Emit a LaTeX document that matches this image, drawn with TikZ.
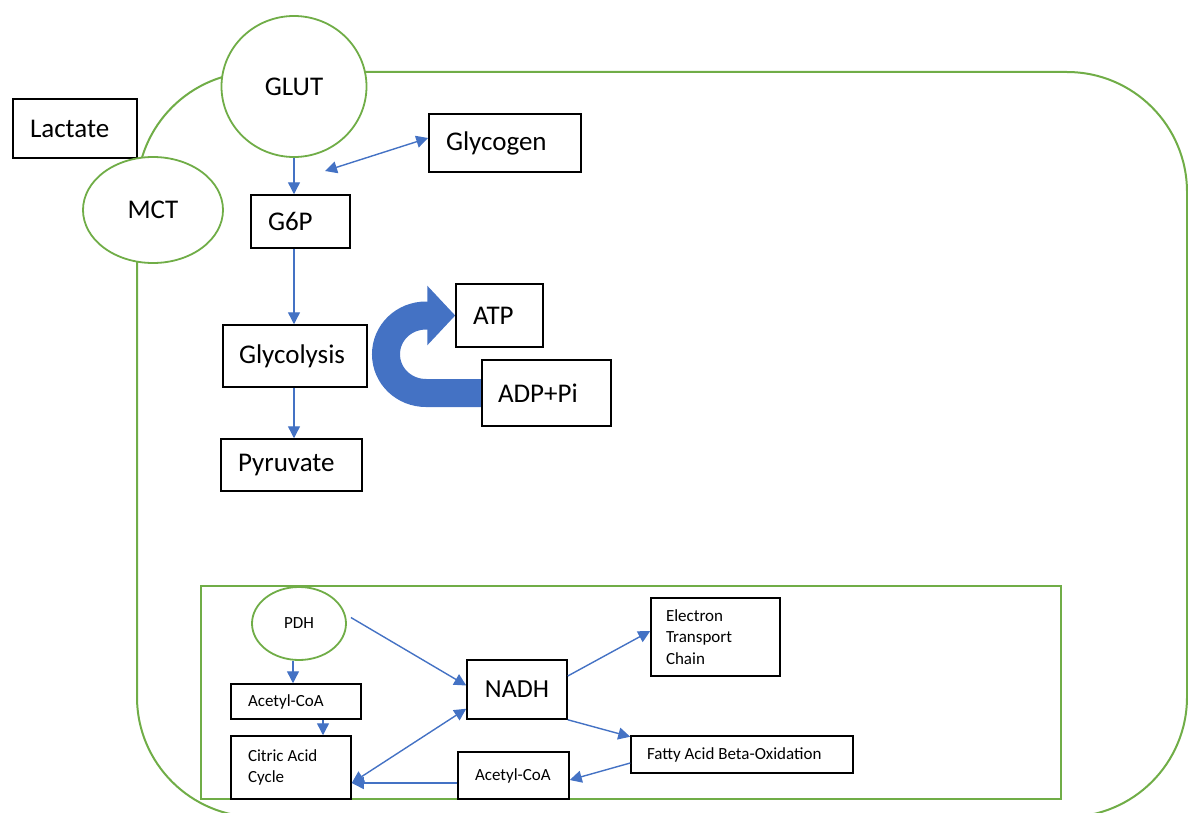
\documentclass[tikz,border=0pt]{standalone}
\usepackage{fontspec}
\setmainfont{Carlito}
\usetikzlibrary{arrows.meta,shapes.geometric,calc,backgrounds}
\definecolor{cgreen}{HTML}{70AD47}
\definecolor{cblue}{HTML}{4472C4}
\begin{document}
\begin{tikzpicture}[x=0.5pt,y=-0.5pt,
  bigf/.style={font=\fontsize{13.5}{16}\selectfont},
  smallf/.style={font=\fontsize{8.5}{10.75}\selectfont},
  bbox/.style={draw=black, line width=0.75pt, fill=white, inner ysep=0pt, align=flush left},
  ell/.style={ellipse, draw=cgreen, line width=0.9pt, fill=white, inner sep=0pt},
  arr/.style={draw=cblue, line width=0.7pt, -{Triangle[length=6pt,width=6pt]}},
  darr/.style={draw=cblue, line width=0.7pt, {Triangle[length=6pt,width=6pt]}-{Triangle[length=6pt,width=6pt]}},
  memb/.style={draw=cgreen, line width=1pt}]
\useasboundingbox (0,0) rectangle (1188,813);
\clip (0,0) rectangle (1188,813);
% cell membrane
\draw[memb, rounded corners=60pt] (137,72) rectangle (1187,817);
% mitochondrion
\node[memb, minimum width=430pt, minimum height=106.5pt, inner sep=0pt] (mito) at (631,692.5) {};
% top part
\node[bbox, bigf, minimum height=29.5pt, text width=45pt, inner xsep=8.5pt] (lactate) at (75,128.5) {Lactate};
\node[ell, bigf, minimum width=72.5pt, minimum height=70.5pt] (glut) at (294,86.5) {GLUT};
\node[ell, bigf, minimum width=70pt, minimum height=53pt] (mct) at (153,210) {MCT};
\node[bbox, bigf, minimum height=29pt, text width=59pt, inner xsep=8.5pt] (glycogen) at (505,143) {Glycogen};
\node[bbox, bigf, minimum height=26.5pt, text width=32.5pt, inner xsep=8.5pt] (g6p) at (300.5,221.5) {G6P};
\node[bbox, bigf, minimum height=31pt, text width=56pt, inner xsep=8pt] (glycolysis) at (295,356) {Glycolysis};
\node[bbox, bigf, minimum height=26pt, text width=53.5pt, inner xsep=8.5pt] (pyruvate) at (291.5,465) {Pyruvate};
\node[bbox, bigf, minimum height=31.5pt, text width=26.5pt, inner xsep=8.5pt] (atp) at (499.5,315.5) {ATP};
\node[bbox, bigf, minimum height=33pt, text width=48.5pt, inner xsep=8pt] (adp) at (546.5,393) {ADP+Pi};
% mitochondrion contents
\node[ell, smallf, minimum width=47pt, minimum height=36.5pt] (pdh) at (299,623.5) {PDH};
\node[bbox, smallf, minimum height=17.5pt, text width=48pt, inner xsep=8.5pt] (acetyla) at (296,701.5) {Acetyl-CoA};
\node[bbox, smallf, minimum height=31.5pt, text width=43pt, inner xsep=8.5pt] (citric) at (291,767.5) {Citric Acid\\Cycle};
\node[bbox, font=\fontsize{13}{15}\selectfont, minimum height=29.5pt, text width=40pt, inner xsep=5pt, align=center] (nadh) at (517,689.5) {NADH};
\node[bbox, smallf, minimum height=23.5pt, text width=38.5pt, inner xsep=8.5pt] (acetylb) at (513.5,775.5) {Acetyl-CoA};
\node[bbox, smallf, minimum height=39pt, text width=49.5pt, inner xsep=7.5pt] (etc) at (715.5,637) {Electron\\Transport\\Chain};
\node[bbox, smallf, minimum height=18.5pt, text width=95pt, inner xsep=8pt] (fatty) at (742,754.5) {Fatty Acid Beta-Oxidation};
% arrows top
\coordinate (gly-free) at (325,171);
\draw[arr] (glut.south) -- (glut.south |- g6p.north);
\draw[darr] (gly-free) -- ([yshift=2.5pt]glycogen.west);
\draw[arr] (g6p.south -| glut.south) -- (glycolysis.north -| glut.south);
\draw[arr] (glycolysis.south -| glut.south) -- (pyruvate.north -| glut.south);
\begin{scope}[on background layer]
\draw[cblue, line width=14pt, -{Triangle[length=14pt,width=29pt]}]
  (adp.west) -- (426,393) .. controls (404,393) and (386,376) .. (386,354.25)
  .. controls (386,332.5) and (404,315.5) .. (426,315.5) -- (atp.west);
\end{scope}
% arrows bottom
\draw[arr] ([xshift=-3pt]pdh.south) -- ([xshift=-3pt]pdh.south |- acetyla.north);
\draw[arr] ([xshift=13.5pt]acetyla.south) -- ([xshift=13.5pt]acetyla.south |- citric.north);
\draw[arr] ([xshift=2pt,yshift=3pt]pdh.east) -- ([yshift=2pt]nadh.west);
\coordinate (cend) at ([yshift=-7.75pt]citric.east);
\draw[darr] (cend) -- ([yshift=5.5pt]nadh.south west);
\draw[arr] (acetylb.west |- cend) -- (cend);
\draw[arr] ([yshift=6.75pt]nadh.east) -- ([yshift=3pt]etc.west);
\draw[arr] (nadh.south east) -- ([yshift=-0.75pt]fatty.north west);
\draw[arr] ([yshift=-4.25pt]fatty.west) -- ([yshift=-2.25pt]acetylb.east);
\end{tikzpicture}
\end{document}
